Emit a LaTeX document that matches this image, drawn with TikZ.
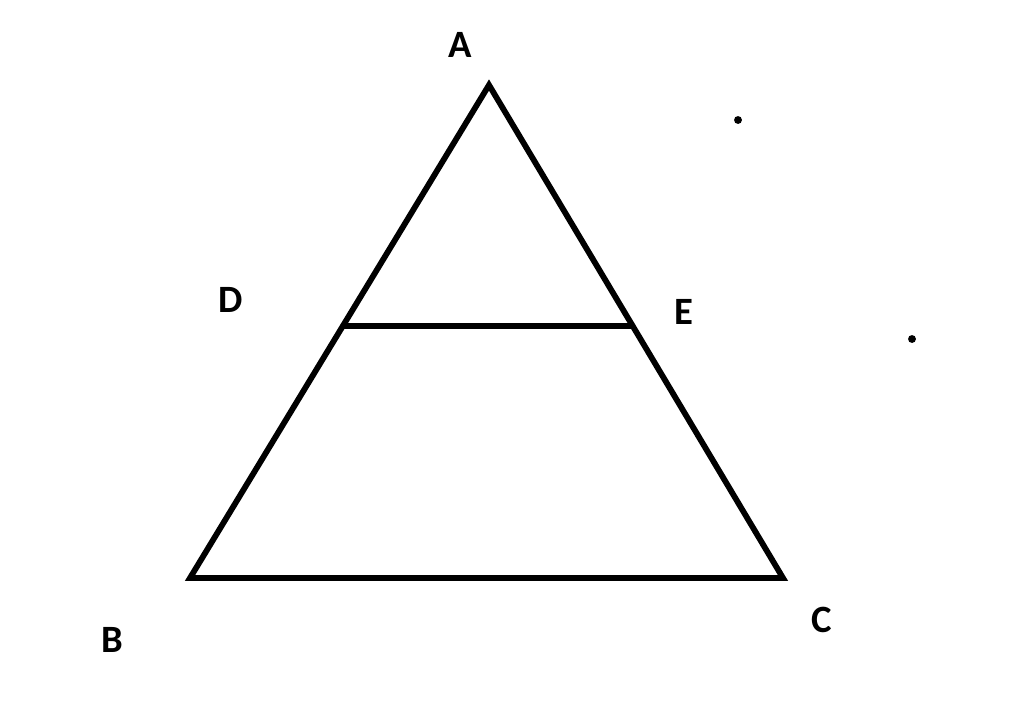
\documentclass[tikz,border=0pt]{standalone}
\usepackage{fontspec}
\setmainfont{Carlito}
\usetikzlibrary{positioning}

\tikzset{
    side/.style={line width=3.3pt, line cap=round, line join=miter},
    vlabel/.style={font=\fontsize{22}{26}\selectfont\bfseries, inner sep=0pt},
    speck/.style={fill=black, circle, inner sep=0pt, minimum size=4.5pt},
}

\begin{document}
\begin{tikzpicture}[x=0.02cm, y=-0.02cm]
\useasboundingbox[fill=white] (0,0) rectangle (1024,727);
% vertices
\coordinate (A) at (489,85);
\coordinate (B) at (190,578);
\coordinate (C) at (783,578);
\coordinate (D) at (343,326);
\coordinate (E) at (632,326);
% triangle and the cut
\draw[side] (A) -- (B) -- (C) -- cycle;
\draw[side] (D) -- (E);
% labels
\node[vlabel] (lA) at (460,45) {A};
\node[vlabel] (lB) at (112,640) {B};
\node[vlabel] (lC) at (822,620) {C};
\node[vlabel] (lD) at (231,300) {D};
\node[vlabel] (lE) at (684,312) {E};
% stray dots
\node[speck] (p1) at (738,120) {};
\node[speck] (p2) at (912,339) {};
\end{tikzpicture}
\end{document}
